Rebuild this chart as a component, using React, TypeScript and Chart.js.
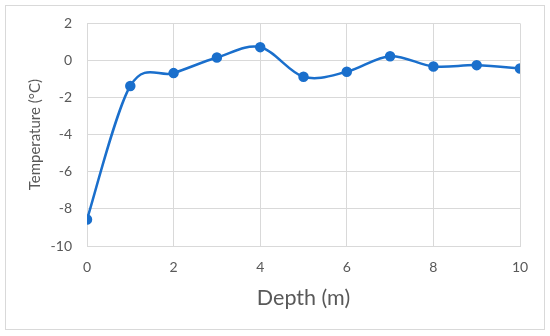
import React, { useEffect, useRef } from "react";
import { Chart, registerables } from "chart.js";

Chart.register(...registerables);

const depths = [0, 1, 2, 3, 4, 5, 6, 7, 8, 9, 10];
const temperatures = [-8.57, -1.37, -0.68, 0.16, 0.72, -0.88, -0.61, 0.23, -0.32, -0.25, -0.43];
const xTicks = [0, 2, 4, 6, 8, 10];
const yTicks = [-10, -8, -6, -4, -2, 0, 2];

const FONT = "Lato, 'Open Sans', sans-serif";
const LINE = "#1a6fcc";
const GRID = "#d9d9d9";
const TEXT = "#595959";

const borderPlugin = {
  id: "outerBorder",
  beforeDraw(chart: any) {
    const ctx = chart.ctx;
    ctx.save();
    ctx.fillStyle = "#ffffff";
    ctx.fillRect(0, 0, chart.width, chart.height);
    ctx.strokeStyle = GRID;
    ctx.lineWidth = 1;
    ctx.strokeRect(5.5, 5.5, 539, 324);
    ctx.restore();
  },
};

// Spreadsheet-style smoothing: Catmull-Rom control points (1/6 of neighbour span)
const smoothPlugin = {
  id: "excelSmooth",
  beforeDatasetsDraw(chart: any) {
    chart.getSortedVisibleDatasetMetas().forEach((meta: any) => {
      const pts = meta.data;
      const n = pts.length;
      for (let i = 0; i < n; i++) {
        const prev = pts[Math.max(i - 1, 0)];
        const next = pts[Math.min(i + 1, n - 1)];
        const dx = (next.x - prev.x) / 6;
        const dy = (next.y - prev.y) / 6;
        pts[i].cp1x = pts[i].x - dx;
        pts[i].cp1y = pts[i].y - dy;
        pts[i].cp2x = pts[i].x + dx;
        pts[i].cp2y = pts[i].y + dy;
      }
      if (meta.dataset) meta.dataset._pointsUpdated = true;
    });
  },
};

export default function App() {
  const ref = useRef<HTMLCanvasElement>(null);
  useEffect(() => {
    if (!ref.current) return;
    const chart = new Chart(ref.current, {
      type: "line",
      data: {
        datasets: [
          {
            data: depths.map((d, i) => ({ x: d, y: temperatures[i] })),
            borderColor: LINE,
            backgroundColor: LINE,
            borderWidth: 2.5,
            pointRadius: 4,
            pointBackgroundColor: LINE,
            pointBorderColor: LINE,
            tension: 0.4,
            fill: false,
          },
        ],
      },
      options: {
        animation: false,
        responsive: false,
        devicePixelRatio: 1,
        layout: { padding: { left: 20, top: 23, right: 30, bottom: 20 } },
        plugins: { legend: { display: false }, tooltip: { enabled: false } },
        scales: {
          x: {
            type: "linear",
            min: 0,
            max: 10,
            afterBuildTicks: (s: any) => {
              s.ticks = xTicks.map((v) => ({ value: v }));
            },
            afterFit: (s: any) => {
              s.height = 70;
            },
            ticks: { color: TEXT, font: { family: FONT, size: 14 }, padding: 13 },
            grid: { color: GRID, drawTicks: false },
            border: { color: GRID },
            title: {
              display: true,
              text: "Depth (m)",
              color: TEXT,
              font: { family: FONT, size: 21.5 },
              padding: { top: 0, bottom: 5 },
            },
          },
          y: {
            type: "linear",
            min: -10,
            max: 2,
            afterBuildTicks: (s: any) => {
              s.ticks = yTicks.map((v) => ({ value: v }));
            },
            afterFit: (s: any) => {
              s.width = 67;
            },
            ticks: { color: TEXT, font: { family: FONT, size: 14 }, padding: 15 },
            grid: { color: GRID, drawTicks: false },
            border: { color: GRID },
            title: {
              display: true,
              text: "Temperature (°C)",
              color: TEXT,
              font: { family: FONT, size: 15 },
              padding: { top: 6, bottom: 0 },
            },
          },
        },
      },
      plugins: [borderPlugin, smoothPlugin],
    });
    return () => chart.destroy();
  }, []);
  return (
    <div style={{ position: "absolute", left: 0, top: 0, width: 550, height: 336 }}>
      <canvas ref={ref} width={550} height={336} style={{ width: 550, height: 336 }} />
    </div>
  );
}
